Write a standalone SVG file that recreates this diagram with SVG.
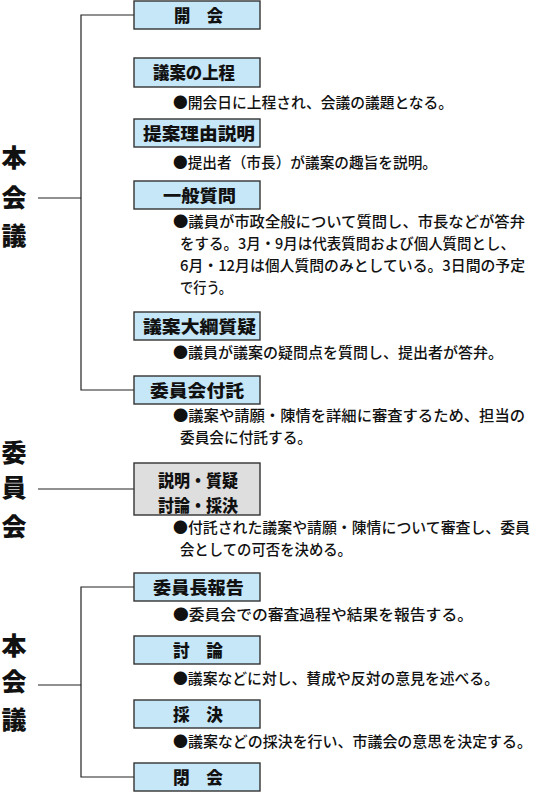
<svg xmlns="http://www.w3.org/2000/svg" width="534" height="793" viewBox="0 0 534 793">
<style>
.bg{fill:#ffffff}
.box{fill:#c6e7f8;stroke:#333333;stroke-width:1.4}
.gbox{fill:#dedede;stroke:#333333;stroke-width:1.4}
.ln{fill:none;stroke:#222222;stroke-width:1.2}
.lbl{font-family:"Noto Sans CJK JP","Noto Sans",sans-serif;font-size:17px;font-weight:900;fill:#111111}
.big{font-family:"Noto Sans CJK JP","Noto Sans",sans-serif;font-size:25px;font-weight:900;fill:#111111;text-anchor:middle}
.desc{font-family:"Noto Sans CJK JP","Noto Sans",sans-serif;font-size:15px;font-weight:500;fill:#111111}
</style>
<rect class="bg" x="0" y="0" width="534" height="793"/>
<g id="connectors">
<polyline class="ln" points="134,15 81,15 81,390 134,390"/>
<line class="ln" x1="38" y1="198" x2="81" y2="198"/>
<line class="ln" x1="38" y1="489" x2="134" y2="489"/>
<polyline class="ln" points="134,587 81,587 81,777 134,777"/>
<line class="ln" x1="38" y1="685" x2="81" y2="685"/>
</g>
<g id="label-honkaigi-1">
<text class="big" x="14" y="166.5">本</text>
<text class="big" x="14" y="206.5">会</text>
<text class="big" x="14" y="244.5">議</text>
</g>
<g id="label-iinkai">
<text class="big" x="14" y="461.5">委</text>
<text class="big" x="14" y="496.5">員</text>
<text class="big" x="14" y="535.5">会</text>
</g>
<g id="label-honkaigi-2">
<text class="big" x="14" y="654.5">本</text>
<text class="big" x="14" y="690.5">会</text>
<text class="big" x="14" y="728.5">議</text>
</g>
<g id="node-kaikai">
<rect class="box" x="134" y="1" width="126" height="28"/>
<text class="lbl" x="174" y="21.5" textLength="49" lengthAdjust="spacingAndGlyphs">開　会</text>
</g>
<g id="node-jotei">
<rect class="box" x="134" y="58" width="126" height="29"/>
<text class="lbl" x="153" y="79" textLength="82" lengthAdjust="spacingAndGlyphs">議案の上程</text>
<text class="desc" x="173" y="107.7" textLength="280" lengthAdjust="spacingAndGlyphs">●開会日に上程され、会議の議題となる。</text>
</g>
<g id="node-teian">
<rect class="box" x="134" y="119" width="126" height="28"/>
<text class="lbl" x="143" y="139.5" textLength="112" lengthAdjust="spacingAndGlyphs">提案理由説明</text>
<text class="desc" x="173" y="167.7" textLength="264" lengthAdjust="spacingAndGlyphs">●提出者（市長）が議案の趣旨を説明。</text>
</g>
<g id="node-ippan">
<rect class="box" x="134" y="181" width="126" height="28"/>
<text class="lbl" x="163" y="201.5" textLength="73" lengthAdjust="spacingAndGlyphs">一般質問</text>
<text class="desc" x="173" y="226.7" textLength="352" lengthAdjust="spacingAndGlyphs">●議員が市政全般について質問し、市長などが答弁</text>
<text class="desc" x="180" y="248.7" textLength="335" lengthAdjust="spacingAndGlyphs">をする。3月・9月は代表質問および個人質問とし、</text>
<text class="desc" x="180" y="270.7" textLength="345" lengthAdjust="spacingAndGlyphs">6月・12月は個人質問のみとしている。3日間の予定</text>
<text class="desc" x="180" y="292.7" textLength="52" lengthAdjust="spacingAndGlyphs">で行う。</text>
</g>
<g id="node-taiko">
<rect class="box" x="134" y="312" width="126" height="28"/>
<text class="lbl" x="143" y="332.5" textLength="113" lengthAdjust="spacingAndGlyphs">議案大綱質疑</text>
<text class="desc" x="173" y="357.7" textLength="330" lengthAdjust="spacingAndGlyphs">●議員が議案の疑問点を質問し、提出者が答弁。</text>
</g>
<g id="node-futaku">
<rect class="box" x="134" y="376" width="126" height="28"/>
<text class="lbl" x="150" y="396.5" textLength="94" lengthAdjust="spacingAndGlyphs">委員会付託</text>
<text class="desc" x="173" y="420.7" textLength="352" lengthAdjust="spacingAndGlyphs">●議案や請願・陳情を詳細に審査するため、担当の</text>
<text class="desc" x="180" y="442.7" textLength="132" lengthAdjust="spacingAndGlyphs">委員会に付託する。</text>
</g>
<g id="node-iinkai">
<rect class="gbox" x="134" y="463" width="126" height="52"/>
<text class="lbl" x="158" y="486.5" textLength="80" lengthAdjust="spacingAndGlyphs">説明・質疑</text>
<text class="lbl" x="158" y="511.5" textLength="80" lengthAdjust="spacingAndGlyphs">討論・採決</text>
<text class="desc" x="173" y="532.7" textLength="357" lengthAdjust="spacingAndGlyphs">●付託された議案や請願・陳情について審査し、委員</text>
<text class="desc" x="180" y="554.7" textLength="172" lengthAdjust="spacingAndGlyphs">会としての可否を決める。</text>
</g>
<g id="node-hokoku">
<rect class="box" x="134" y="573" width="126" height="28"/>
<text class="lbl" x="153" y="593.5" textLength="91" lengthAdjust="spacingAndGlyphs">委員長報告</text>
<text class="desc" x="173" y="619.7" textLength="300" lengthAdjust="spacingAndGlyphs">●委員会での審査過程や結果を報告する。</text>
</g>
<g id="node-toron">
<rect class="box" x="134" y="636" width="126" height="28"/>
<text class="lbl" x="173" y="656.5" textLength="50" lengthAdjust="spacingAndGlyphs">討　論</text>
<text class="desc" x="173" y="683.7" textLength="326" lengthAdjust="spacingAndGlyphs">●議案などに対し、賛成や反対の意見を述べる。</text>
</g>
<g id="node-saiketsu">
<rect class="box" x="134" y="700" width="126" height="28"/>
<text class="lbl" x="173" y="720.5" textLength="50" lengthAdjust="spacingAndGlyphs">採　決</text>
<text class="desc" x="173" y="746.7" textLength="359" lengthAdjust="spacingAndGlyphs">●議案などの採決を行い、市議会の意思を決定する。</text>
</g>
<g id="node-heikai">
<rect class="box" x="134" y="763" width="126" height="28"/>
<text class="lbl" x="173" y="783.5" textLength="50" lengthAdjust="spacingAndGlyphs">閉　会</text>
</g>
</svg>
